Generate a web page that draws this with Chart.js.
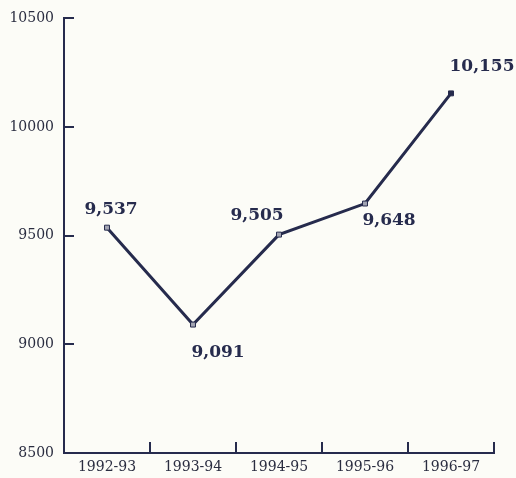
<!DOCTYPE html>
<html>
<head>
<meta charset="utf-8">
<script src="https://cdn.jsdelivr.net/npm/chart.js@4.4.0/dist/chart.umd.min.js"></script>
<style>
  html, body { margin: 0; padding: 0; background: #fcfcf7; }
  #wrap { width: 516px; height: 478px; position: relative; }
</style>
</head>
<body>
<div id="wrap"><canvas id="c"></canvas></div>
<script>
// === DATA ===
const years = ['1992-93', '1993-94', '1994-95', '1995-96', '1996-97'];
const values = [9537, 9091, 9505, 9648, 10155];
const yTicks = [8500, 9000, 9500, 10000, 10500];

// === STYLE ===
const ink = '#262b4d';
// label offsets from each point (dx, dy)
const labelOffsets = [[4, -18], [25, 28], [-22, -19], [24, 17], [31, -27]];

// inside tick marks + bold value labels
const decor = {
    id: 'decor',
    afterDatasetsDraw(chart) {
        const ctx = chart.ctx;
        const xs = chart.scales.x, ys = chart.scales.y;
        const bottom = chart.chartArea.bottom, left = chart.chartArea.left;
        ctx.save();
        ctx.strokeStyle = ink;
        ctx.lineWidth = 2;
        const step = xs.getPixelForValue(1) - xs.getPixelForValue(0);
        years.forEach((_, i) => {
            const x = Math.round(xs.getPixelForValue(i) + step / 2);
            ctx.beginPath();
            ctx.moveTo(x, bottom);
            ctx.lineTo(x, bottom - 11);
            ctx.stroke();
        });
        yTicks.forEach(v => {
            if (v === ys.min) return;
            const y = Math.round(ys.getPixelForValue(v));
            ctx.beginPath();
            ctx.moveTo(left, y);
            ctx.lineTo(left + 10, y);
            ctx.stroke();
        });
        ctx.fillStyle = ink;
        ctx.font = 'bold 17px "DejaVu Serif"';
        ctx.textAlign = 'center';
        ctx.textBaseline = 'middle';
        const meta = chart.getDatasetMeta(0);
        meta.data.forEach((pt, i) => {
            const [dx, dy] = labelOffsets[i];
            ctx.fillText(values[i].toLocaleString('en-US'), pt.x + dx, pt.y + dy);
        });
        ctx.restore();
    }
};

new Chart(document.getElementById('c'), {
    type: 'line',
    data: {
        labels: years,
        datasets: [{
            data: values,
            borderColor: ink,
            borderWidth: 3,
            tension: 0,
            pointStyle: 'rect',
            pointRadius: 3.5,
            pointBorderWidth: 1,
            pointBorderColor: ink,
            pointBackgroundColor: ['#a3a5b3', '#a3a5b3', '#a3a5b3', '#a3a5b3', ink]
        }]
    },
    options: {
        responsive: true,
        maintainAspectRatio: false,
        animation: false,
        layout: { padding: { top: 14, right: 22, left: 0, bottom: 0 } },
        plugins: { legend: { display: false }, tooltip: { enabled: false } },
        scales: {
            x: {
                type: 'category',
                offset: true,
                grid: { display: true, drawOnChartArea: false, drawTicks: false, offset: true },
                border: { color: ink, width: 2 },
                ticks: { color: '#2a2d40', font: { family: 'DejaVu Serif', size: 14 }, padding: 6, maxRotation: 0 },
                afterFit(s) { s.height = 25; }
            },
            y: {
                min: 8500, max: 10500,
                afterBuildTicks(s) { s.ticks = yTicks.map(v => ({ value: v })); },
                grid: { drawOnChartArea: false, drawTicks: false },
                border: { color: ink, width: 2 },
                ticks: { color: '#2a2d40', font: { family: 'DejaVu Serif', size: 14 }, padding: 10, callback: v => String(v) },
                afterFit(s) { s.width = 64; }
            }
        }
    },
    plugins: [decor]
});
</script>
</body>
</html>
